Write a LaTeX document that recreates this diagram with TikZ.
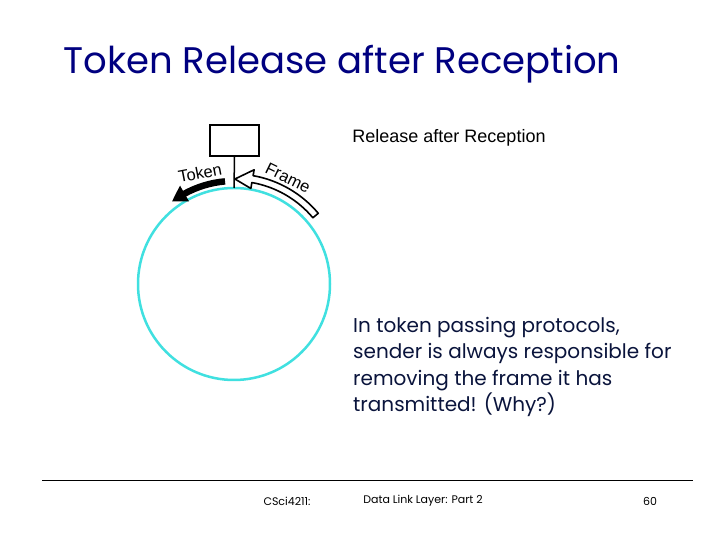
\documentclass[tikz,border=0pt]{standalone}
\usepackage{fontspec}
\setmainfont{Liberation Sans}
\newfontfamily\comicfont{Poppins}
\usetikzlibrary{arrows.meta,bending,calc}

\definecolor{titleblue}{RGB}{0,0,128}
\definecolor{ringcyan}{RGB}{64,224,224}
\definecolor{bodyink}{RGB}{10,20,60}

\tikzset{
    ring/.style = {draw=ringcyan, line width=2.5pt},
    station/.style = {draw, line width=1.8pt, minimum width=49pt, minimum height=31pt},
    ringlabel/.style = {font=\fontsize{16.5}{16.5}\selectfont, inner sep=0pt},
    footer/.style = {font=\comicfont\fontsize{11}{11}\selectfont, inner sep=0pt}
}

\begin{document}
\begin{tikzpicture}[x=1pt, y=1pt]
    \useasboundingbox[fill=white] (0,0) rectangle (720,540);

    % Title
    \node[titleblue, font=\comicfont\fontsize{37}{37}\selectfont] (title) at (342,476) {Token Release after Reception};
    \node[font=\fontsize{18}{18}\selectfont] (subtitle) at (449,402) {Release after Reception};

    % Ring and station
    \coordinate (C) at (234,256);
    \draw[ring] (C) circle[radius=96];
    \node[station] (box) at (234.5,399.5) {};
    \coordinate (tap) at (234,352);
    \draw[line width=1.5pt] (box.south) -- (tap);

    % Token arrow
    \draw[line width=6.5pt, -{Triangle[bend, length=15pt, width=17pt]}]
        (C) ++(95:103) arc[start angle=95, end angle=127, radius=103];
    \node[ringlabel, rotate=11] (token) at (200,367) {Token};

    % Frame arrow (hollow)
    \draw[line width=1.6pt, fill=white, line join=round]
        (C) ++(40:103) arc[start angle=40, end angle=80, radius=103]
        -- ($(C)+(80:97)$) -- ($(C)+(89.5:105)$) -- ($(C)+(80:116)$)
        -- ($(C)+(80:110)$) arc[start angle=80, end angle=40, radius=110] -- cycle;
    \node[ringlabel, rotate=-26] (frame) at (288,362) {Frame};

    % Explanation
    \node[bodyink, font=\comicfont\fontsize{20}{26.5}\selectfont, align=left, anchor=north west, inner sep=0pt] (note) at (353,223)
        {In token passing protocols,\\ sender is always responsible for\\ removing the frame it has\\ transmitted! (Why?)};

    % Footer
    \coordinate (rule west) at (42,60);
    \coordinate (rule east) at (693,60);
    \draw[line width=0.8pt] (rule west) -- (rule east);
    \node[footer] (course) at (287,39) {CSci4211:};
    \node[footer] (chapter) at (423,39) {Data Link Layer: Part 2};
    \node[footer] (page) at (650,39) {60};
\end{tikzpicture}
\end{document}
